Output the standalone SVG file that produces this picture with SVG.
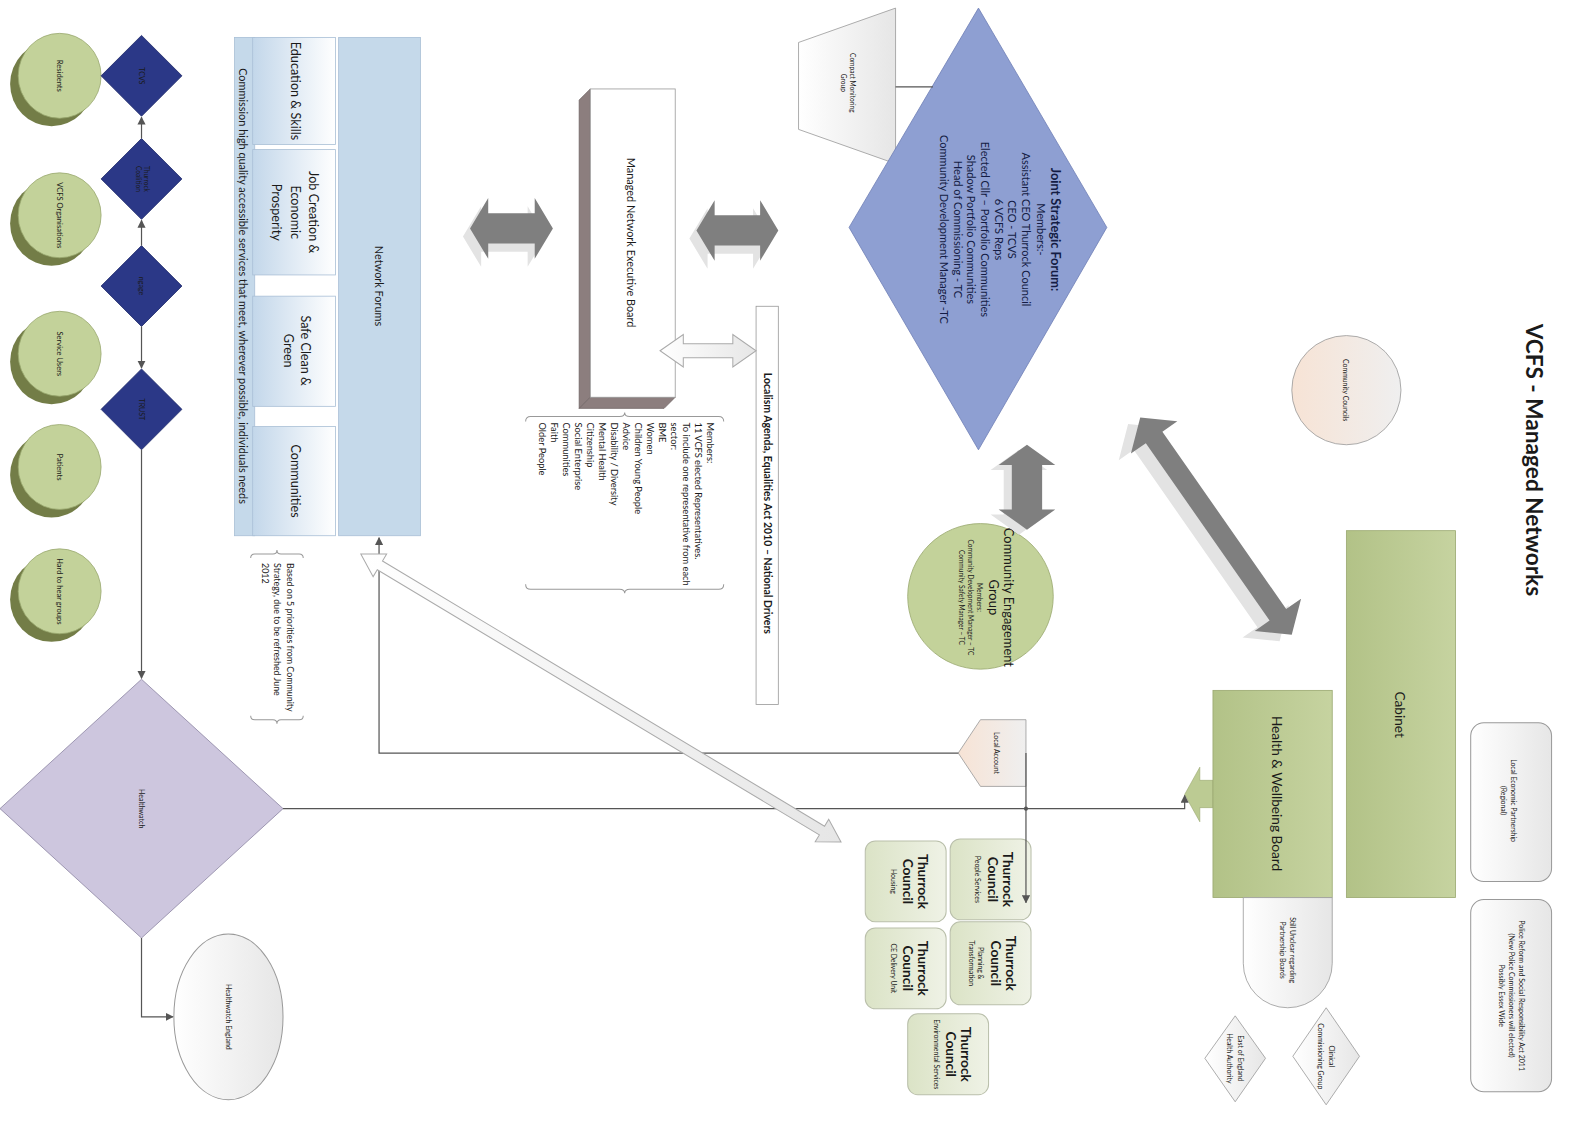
<svg xmlns="http://www.w3.org/2000/svg" width="1585" height="1122" viewBox="0 0 1585 1122">
<defs>
<style>
.f{font-family:Lato,"Liberation Sans",Arial,sans-serif;fill:#1a1a1a}
.c{text-anchor:middle;dominant-baseline:central}
.s{text-anchor:start;dominant-baseline:central}
.b{font-weight:bold}
.ln{fill:none;stroke:#555;stroke-width:1.2}
.olv{fill:#c3d29a;stroke:#9aa870;stroke-width:0.8}
.olvs{fill:#737d47}
.navy{fill:#2b3887;stroke:#1f2a6a;stroke-width:0.8}
.fat{fill:#7f7f7f}
.fats{fill:#e3e3e3}
.thin{fill:url(#gGrey);stroke:#aaa;stroke-width:1}
.tc{fill:url(#gTC);stroke:#b9bfaa;stroke-width:1}
.grb{fill:url(#gGrey);stroke:#999;stroke-width:1}
.brace{fill:none;stroke:#999;stroke-width:1}
.jt{fill:#141c44}
</style>
<linearGradient id="gBlue" x1="0" y1="0" x2="1" y2="0"><stop offset="0" stop-color="#c3d7ea"/><stop offset="1" stop-color="#ffffff"/></linearGradient>
<linearGradient id="gGreen" x1="0" y1="0" x2="1" y2="0"><stop offset="0" stop-color="#b2c287"/><stop offset="1" stop-color="#c6d3a0"/></linearGradient>
<linearGradient id="gGrey" x1="0" y1="0" x2="1" y2="0"><stop offset="0" stop-color="#ffffff"/><stop offset="1" stop-color="#e6e6e6"/></linearGradient>
<linearGradient id="gPeach" x1="0" y1="0" x2="1" y2="0"><stop offset="0" stop-color="#f7e3d5"/><stop offset="1" stop-color="#efefef"/></linearGradient>
<linearGradient id="gTC" x1="0" y1="0" x2="1" y2="0"><stop offset="0" stop-color="#dbe3c6"/><stop offset="1" stop-color="#eff2e6"/></linearGradient>
<marker id="ah" viewBox="0 0 10 10" refX="9" refY="5" markerWidth="8" markerHeight="8" markerUnits="userSpaceOnUse" orient="auto"><path d="M0,0 L10,5 L0,10 Z" fill="#555"/></marker>
</defs>
<rect width="1585" height="1122" fill="#fff"/>
<g transform="scale(1.0108)">

<g id="title"><g transform="rotate(90)"><text class="f c b" x="455" y="-1518" font-size="22.4">VCFS - Managed Networks</text></g></g>

<!-- left column circles -->
<g id="residents"><ellipse class="olvs" cx="51" cy="83" rx="41" ry="42"/><ellipse class="olv" cx="59" cy="75" rx="41" ry="42"/><g transform="rotate(90)"><text class="f c" x="75" y="-59" font-size="7.5">Residents</text></g></g>
<g id="vcfs-orgs"><ellipse class="olvs" cx="51" cy="221" rx="41" ry="42"/><ellipse class="olv" cx="59" cy="213" rx="41" ry="42"/><g transform="rotate(90)"><text class="f c" x="213" y="-59" font-size="7.5">VCFS Organisations</text></g></g>
<g id="service-users"><ellipse class="olvs" cx="51" cy="358" rx="41" ry="42"/><ellipse class="olv" cx="59" cy="350" rx="41" ry="42"/><g transform="rotate(90)"><text class="f c" x="350" y="-59" font-size="7.5">Service Users</text></g></g>
<g id="patients"><ellipse class="olvs" cx="51" cy="470" rx="41" ry="42"/><ellipse class="olv" cx="59" cy="462" rx="41" ry="42"/><g transform="rotate(90)"><text class="f c" x="462" y="-59" font-size="7.5">Patients</text></g></g>
<g id="hard-to-hear"><ellipse class="olvs" cx="51" cy="593" rx="41" ry="42"/><ellipse class="olv" cx="59" cy="585" rx="41" ry="42"/><g transform="rotate(90)"><text class="f c" x="585" y="-59" font-size="7.5">Hard to hear groups</text></g></g>

<!-- diamonds -->
<g id="tcvs"><polygon class="navy" points="140,35 180,75 140,115 100,75"/><g transform="rotate(90)"><text class="f c" x="75" y="-140" font-size="7">TCVS</text></g></g>
<g id="coalition"><polygon class="navy" points="140,137 180,177 140,217 100,177"/><g transform="rotate(90)"><text class="f c" x="177" y="-145" font-size="6.5">Thurrock</text><text class="f c" x="177" y="-137" font-size="6.5">Coalition</text></g></g>
<g id="ngage"><polygon class="navy" points="140,243 180,283 140,323 100,283"/><g transform="rotate(90)"><text class="f c" x="283" y="-140" font-size="7">ngage</text></g></g>
<g id="trust"><polygon class="navy" points="140,365 180,405 140,445 100,405"/><g transform="rotate(90)"><text class="f c" x="405" y="-140" font-size="7">TRUST</text></g></g>

<!-- Healthwatch -->
<g id="healthwatch"><polygon points="140,672 280,800 140,928 0,800" fill="#cdc6de" stroke="#8d86a3" stroke-width="0.8"/><g transform="rotate(90)"><text class="f c" x="800" y="-140" font-size="7">Healthwatch</text></g></g>
<g id="healthwatch-england"><ellipse cx="226" cy="1006" rx="54" ry="82" fill="url(#gGrey)" stroke="#999"/><g transform="rotate(90)"><text class="f c" x="1006" y="-226" font-size="7">Healthwatch England</text></g></g>

<!-- Network forums block -->
<g id="commission"><rect x="232" y="37" width="20" height="493" fill="#c5d9ea" stroke="#a9bfd6" stroke-width="0.8"/><g transform="rotate(90)"><text class="f c" x="283" y="-241" font-size="10.8">Commission high quality accessible services that meet, wherever possible, individuals needs</text></g></g>
<g id="education"><rect x="250" y="37" width="82" height="106" fill="url(#gBlue)" stroke="#a9bfd6" stroke-width="0.8"/><g transform="rotate(90)"><text class="f c" x="90" y="-292" font-size="12.5">Education &amp; Skills</text></g></g>
<g id="job-creation"><rect x="250" y="148" width="82" height="124" fill="url(#gBlue)" stroke="#a9bfd6" stroke-width="0.8"/><g transform="rotate(90)"><text class="f c" x="210" y="-310" font-size="12.5">Job Creation &amp;</text><text class="f c" x="210" y="-292" font-size="12.5">Economic</text><text class="f c" x="210" y="-274" font-size="12.5">Prosperity</text></g></g>
<g id="safe-clean"><rect x="250" y="293" width="82" height="109" fill="url(#gBlue)" stroke="#a9bfd6" stroke-width="0.8"/><g transform="rotate(90)"><text class="f c" x="347" y="-302" font-size="12.5">Safe Clean &amp;</text><text class="f c" x="347" y="-285" font-size="12.5">Green</text></g></g>
<g id="communities"><rect x="250" y="422" width="82" height="108" fill="url(#gBlue)" stroke="#a9bfd6" stroke-width="0.8"/><g transform="rotate(90)"><text class="f c" x="476" y="-292" font-size="12.5">Communities</text></g></g>
<g id="network-forums"><rect x="335" y="37" width="81" height="493" fill="#c5d9ea" stroke="#a9bfd6" stroke-width="0.8"/><g transform="rotate(90)"><text class="f c" x="283" y="-375" font-size="10.8">Network Forums</text></g></g>

<g id="based-on-note">
<path class="brace" d="M248,552 Q248,548 252,548 L270,548 Q274,548 274,544 Q274,548 278,548 L296,548 Q300,548 300,552"/>
<path class="brace" d="M248,708 Q248,712 252,712 L270,712 Q274,712 274,716 Q274,712 278,712 L296,712 Q300,712 300,708"/>
<g transform="rotate(90)"><text class="f s" x="557" y="-287" font-size="8.8">Based on 5 priorities from Community</text><text class="f s" x="557" y="-275" font-size="8.8">Strategy, due to be refreshed June</text><text class="f s" x="557" y="-263" font-size="8.8">2012</text></g>
</g>

<!-- Managed Network Executive Board -->
<g id="exec-board">
<polygon points="584,88 573,99 573,404 584,393" fill="#8c7e7e" stroke="#6f6464" stroke-width="0.8"/>
<polygon points="573,404 584,393 668,393 657,404" fill="#8c7e7e" stroke="#6f6464" stroke-width="0.8"/>
<rect x="584" y="88" width="84" height="305" fill="#fff" stroke="#999" stroke-width="0.8"/>
<g transform="rotate(90)"><text class="f c" x="240" y="-625" font-size="10.8">Managed Network Executive Board</text></g>
</g>

<g id="members">
<path class="brace" d="M520,417 Q520,412 525,412 L613,412 Q618,412 618,408 Q618,412 623,412 L711,412 Q716,412 716,417"/>
<path class="brace" d="M520,578 Q520,583 525,583 L613,583 Q618,583 618,587 Q618,583 623,583 L711,583 Q716,583 716,578"/>
<g transform="rotate(90)" font-size="9.2">
<text class="f s" x="418" y="-703">Members:</text>
<text class="f s" x="418" y="-691.1">11 VCFS elected Representatives.</text>
<text class="f s" x="418" y="-679.3">To include one representative from each</text>
<text class="f s" x="418" y="-667.4">sector:</text>
<text class="f s" x="418" y="-655.6">BME</text>
<text class="f s" x="418" y="-643.7">Women</text>
<text class="f s" x="418" y="-631.9">Children Young People</text>
<text class="f s" x="418" y="-620">Advice</text>
<text class="f s" x="418" y="-608.1">Disability / Diversity</text>
<text class="f s" x="418" y="-596.3">Mental Health</text>
<text class="f s" x="418" y="-584.4">Citizenship</text>
<text class="f s" x="418" y="-572.6">Social Enterprise</text>
<text class="f s" x="418" y="-560.7">Communities</text>
<text class="f s" x="418" y="-548.9">Faith</text>
<text class="f s" x="418" y="-537">Older People</text>
</g>
</g>

<g id="localism"><rect x="748" y="303" width="22" height="394" fill="#fff" stroke="#999" stroke-width="0.8"/><g transform="rotate(90)"><text class="f c b" x="498" y="-760" font-size="10.4">Localism Agenda, Equalities Act 2010 – National Drivers</text></g></g>

<!-- Compact Monitoring Group -->
<g id="compact-monitoring"><polygon points="790,42 886,8 886,162 790,128" fill="url(#gGrey)" stroke="#999" stroke-width="0.8"/><g transform="rotate(90)"><text class="f c" x="82" y="-843" font-size="6.5">Compact Monitoring</text><text class="f c" x="82" y="-834" font-size="6.5">Group</text></g></g>

<!-- Joint Strategic Forum -->
<g id="jsf"><polygon points="968,8 1095,225 968,445 840,225" fill="#8e9fd2" stroke="#6f80b6" stroke-width="0.8"/>
<g transform="rotate(90)" font-size="10.9">
<text class="f c b jt" x="227" y="-1045" font-size="12.6">Joint Strategic Forum:</text>
<text class="f c jt" x="227" y="-1030">Members:-</text>
<text class="f c jt" x="227" y="-1016">Assistant CEO Thurrock Council</text>
<text class="f c jt" x="227" y="-1002">CEO - TCVS</text>
<text class="f c jt" x="227" y="-989">6 VCFS Reps</text>
<text class="f c jt" x="227" y="-975">Elected Cllr – Portfolio Communities</text>
<text class="f c jt" x="227" y="-961">Shadow Portfolio Communities</text>
<text class="f c jt" x="227" y="-948">Head of Commissioning - TC</text>
<text class="f c jt" x="227" y="-934">Community Development Manager -TC</text>
</g></g>

<!-- Community Councils -->
<g id="community-councils"><circle cx="1332" cy="386" r="54" fill="url(#gPeach)" stroke="#999" stroke-width="0.8"/><g transform="rotate(90)"><text class="f c" x="386" y="-1332" font-size="6.8">Community Councils</text></g></g>

<!-- Community Engagement Group -->
<g id="ceg"><circle cx="970" cy="590" r="72" fill="#c3d29a" stroke="#9aa870" stroke-width="0.8"/>
<g transform="rotate(90)">
<text class="f c" x="591" y="-998" font-size="12.8">Community Engagement</text>
<text class="f c" x="591" y="-983" font-size="12.8">Group</text>
<text class="f c" x="591" y="-969" font-size="6.5">Members:</text>
<text class="f c" x="591" y="-960" font-size="6.5">Community Development Manager – TC</text>
<text class="f c" x="591" y="-951" font-size="6.5">Community Safety Manager – TC</text>
</g></g>

<!-- Cabinet / H&W -->
<g id="cabinet"><rect x="1332" y="525" width="108" height="363" fill="url(#gGreen)" stroke="#9aa870" stroke-width="0.8"/><g transform="rotate(90)"><text class="f c" x="707" y="-1385" font-size="13.5">Cabinet</text></g></g>
<g id="health-wellbeing"><polygon points="1172,786 1187,759 1187,772 1200,772 1200,799 1187,799 1187,813" fill="#bccb93" stroke="#9aa870" stroke-width="0.6"/><rect x="1200" y="683" width="118" height="205" fill="url(#gGreen)" stroke="#9aa870" stroke-width="0.8"/><g transform="rotate(90)"><text class="f c" x="785" y="-1263" font-size="13.5">Health &amp; Wellbeing Board</text></g></g>
<g id="still-unclear"><path d="M1230,888 L1318,888 L1318,953 A44,44 0 0 1 1230,953 Z" fill="url(#gGrey)" stroke="#999" stroke-width="0.8"/><g transform="rotate(90)"><text class="f c" x="940" y="-1279" font-size="6.8">Still Unclear regarding</text><text class="f c" x="940" y="-1269" font-size="6.8">Partnership Boards</text></g></g>
<g id="ccg"><polygon points="1312,997 1345,1045 1312,1093 1279,1045" fill="url(#gGrey)" stroke="#999" stroke-width="0.8"/><g transform="rotate(90)"><text class="f c" x="1045" y="-1318" font-size="6.8">Clinical</text><text class="f c" x="1045" y="-1307" font-size="6.8">Commissioning Group</text></g></g>
<g id="east-england"><polygon points="1222,1005 1252,1047 1222,1090 1192,1047" fill="url(#gGrey)" stroke="#999" stroke-width="0.8"/><g transform="rotate(90)"><text class="f c" x="1047" y="-1228" font-size="6.8">East of England</text><text class="f c" x="1047" y="-1217" font-size="6.8">Health Authority</text></g></g>
<g id="lep"><rect class="grb" x="1455" y="715" width="80" height="157" rx="13"/><g transform="rotate(90)"><text class="f c" x="792" y="-1498" font-size="6.8">Local Economic Partnership</text><text class="f c" x="792" y="-1488" font-size="6.8">(Regional)</text></g></g>
<g id="police"><rect class="grb" x="1455" y="890" width="80" height="190" rx="13"/><g transform="rotate(90)"><text class="f c" x="985" y="-1505" font-size="7">Police Reform and Social Responsibility Act 2011</text><text class="f c" x="985" y="-1495" font-size="7">(New Police Commissioners will elected)</text><text class="f c" x="985" y="-1485" font-size="7">Possibly Essex Wide</text></g></g>

<!-- Local Account -->
<g id="local-account"><polygon points="1015,712 1015,778 970,778 948,745 970,712" fill="url(#gPeach)" stroke="#999" stroke-width="0.8"/><g transform="rotate(90)"><text class="f c" x="745" y="-986" font-size="6.8">Local Account</text></g></g>

<!-- Thurrock Council boxes -->
<g id="tc-people"><rect class="tc" x="940" y="830" width="80" height="80" rx="10"/><g transform="rotate(90)"><text class="f c b" x="870" y="-997" font-size="13.5">Thurrock</text><text class="f c b" x="870" y="-982" font-size="13.5">Council</text><text class="f c" x="870" y="-968" font-size="6.8">People Services</text></g></g>
<g id="tc-housing"><rect class="tc" x="856" y="832" width="80" height="80" rx="10"/><g transform="rotate(90)"><text class="f c b" x="872" y="-913" font-size="13.5">Thurrock</text><text class="f c b" x="872" y="-898" font-size="13.5">Council</text><text class="f c" x="872" y="-884" font-size="6.8">Housing</text></g></g>
<g id="tc-planning"><rect class="tc" x="940" y="912" width="80" height="82" rx="10"/><g transform="rotate(90)"><text class="f c b" x="953" y="-1000" font-size="13.5">Thurrock</text><text class="f c b" x="953" y="-985" font-size="13.5">Council</text><text class="f c" x="953" y="-971" font-size="6.8">Planning &amp;</text><text class="f c" x="953" y="-962" font-size="6.8">Transformation</text></g></g>
<g id="tc-ce-delivery"><rect class="tc" x="856" y="918" width="80" height="80" rx="10"/><g transform="rotate(90)"><text class="f c b" x="958" y="-913" font-size="13.5">Thurrock</text><text class="f c b" x="958" y="-898" font-size="13.5">Council</text><text class="f c" x="958" y="-884" font-size="6.8">CE Delivery Unit</text></g></g>
<g id="tc-environmental"><rect class="tc" x="898" y="1003" width="80" height="80" rx="10"/><g transform="rotate(90)"><text class="f c b" x="1043" y="-956" font-size="13.5">Thurrock</text><text class="f c b" x="1043" y="-941" font-size="13.5">Council</text><text class="f c" x="1043" y="-927" font-size="6.8">Environmental Services</text></g></g>

<!-- connectors -->
<g id="connectors">
<line class="ln" x1="140" y1="137" x2="140" y2="116" marker-end="url(#ah)"/>
<line class="ln" x1="140" y1="243" x2="140" y2="218" marker-end="url(#ah)"/>
<line class="ln" x1="140" y1="323" x2="140" y2="364" marker-end="url(#ah)"/>
<line class="ln" x1="140" y1="445" x2="140" y2="671" marker-end="url(#ah)"/>
<polyline class="ln" points="140,928 140,1006 171,1006" marker-end="url(#ah)"/>
<polyline class="ln" points="280,800 1172,800 1172,787" marker-end="url(#ah)"/>
<polyline class="ln" points="948,745 375,745 375,532" marker-end="url(#ah)"/>
<polyline class="ln" points="1015,745 1015,893" marker-end="url(#ah)"/>
<circle cx="1015" cy="800" r="2" fill="#555"/>
<line class="ln" x1="886" y1="86" x2="923" y2="86"/>
<!-- fat grey arrows -->
<g transform="translate(-7,8)"><polygon class="fats" points="465,226 483,196 483,211 529,211 529,196 547,226 529,256 529,241 483,241 483,256"/></g>
<polygon class="fat" points="465,226 483,196 483,211 529,211 529,196 547,226 529,256 529,241 483,241 483,256"/>
<g transform="translate(-7,8)"><polygon class="fats" points="689,228 707,198 707,213 752,213 752,198 770,228 752,258 752,243 707,243 707,258"/></g>
<polygon class="fat" points="689,228 707,198 707,213 752,213 752,198 770,228 752,258 752,243 707,243 707,258"/>
<g transform="translate(-8,5)"><polygon class="fats" points="1016,440 1044,460 1031,460 1031,504 1044,504 1016,524 988,504 1001,504 1001,460 988,460"/></g>
<polygon class="fat" points="1016,440 1044,460 1031,460 1031,504 1044,504 1016,524 988,504 1001,504 1001,460 988,460"/>
<g transform="translate(1191,527) rotate(55.1)"><polygon class="fats" points="-131,0 -107,-28 -107,-10 107,-10 107,-28 131,0 107,28 107,10 -107,10 -107,28"/></g>
<g transform="translate(1203,520.5) rotate(55.1)"><polygon class="fat" points="-131,0 -107,-28 -107,-10 107,-10 107,-28 131,0 107,28 107,10 -107,10 -107,28"/></g>
<!-- light outlined arrows -->
<polygon class="thin" points="653,347 676,331 676,340 725,340 725,331 748,347 725,363 725,354 676,354 676,363"/>
<g transform="translate(594.5,690.5) rotate(30.96)"><polygon class="thin" points="-277,0 -255,-13 -255,-5 255,-5 255,-13 277,0 255,13 255,5 -255,5 -255,13"/></g>
</g>

</g>
</svg>
